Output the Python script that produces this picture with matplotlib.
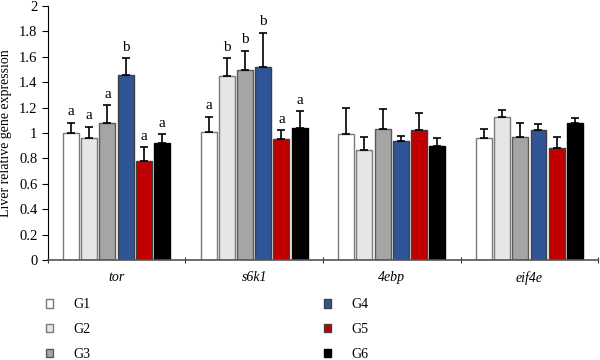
import matplotlib
matplotlib.use("Agg")
import matplotlib.pyplot as plt
from matplotlib.patches import Patch
import numpy as np

plt.rcParams['font.family'] = ['Liberation Serif', 'DejaVu Serif']

genes = ['tor', 's6k1', '4ebp', 'eif4e']
groups = ['G1', 'G2', 'G3', 'G4', 'G5', 'G6']
means = {
    'G1': [1.00, 1.01, 0.99, 0.96],
    'G2': [0.96, 1.45, 0.87, 1.13],
    'G3': [1.08, 1.50, 1.03, 0.97],
    'G4': [1.46, 1.52, 0.94, 1.02],
    'G5': [0.78, 0.95, 1.02, 0.88],
    'G6': [0.92, 1.04, 0.90, 1.08],
}
errs = {
    'G1': [0.08, 0.12, 0.21, 0.07],
    'G2': [0.09, 0.14, 0.10, 0.05],
    'G3': [0.14, 0.15, 0.16, 0.11],
    'G4': [0.13, 0.27, 0.04, 0.05],
    'G5': [0.11, 0.07, 0.14, 0.09],
    'G6': [0.07, 0.13, 0.06, 0.04],
}
letters = {
    'G1': ['a', 'a', '', ''],
    'G2': ['a', 'b', '', ''],
    'G3': ['a', 'b', '', ''],
    'G4': ['b', 'b', '', ''],
    'G5': ['a', 'a', '', ''],
    'G6': ['a', 'a', '', ''],
}
colors = ['#ffffff', '#e6e6e6', '#a5a5a5', '#2f5597', '#c00000', '#000000']
edges = ['#7a7a7a', '#7a7a7a', '#5a5a5a', '#404040', '#404040', '#000000']
yticks = [0, 0.2, 0.4, 0.6, 0.8, 1, 1.2, 1.4, 1.6, 1.8, 2]
ytick_labels = ['0', '0.2', '0.4', '0.6', '0.8', '1', '1.2', '1.4', '1.6', '1.8', '2']

fig = plt.figure(figsize=(6, 3.6), dpi=100)
ax = fig.add_axes([0.0795, 0.278, 0.9175, 0.705])

w = 0.116
step = 0.1324
centers = np.arange(len(genes)) + 0.5
for i, g in enumerate(groups):
    x = centers + (i - 2.5) * step
    ax.bar(x, means[g], width=w, color=colors[i], edgecolor=edges[i],
           linewidth=1.0, zorder=2)
    ax.errorbar(x, means[g], yerr=[np.zeros(len(genes)), errs[g]], fmt='none',
                ecolor='black', elinewidth=1.2, capsize=3, capthick=1.2, zorder=3)
    for xi, m, e, lab in zip(x, means[g], errs[g], letters[g]):
        if lab:
            ax.text(xi, m + e + 0.035, lab, ha='center', va='bottom', fontsize=11)

ax.set_xlim(0, 4)
ax.set_ylim(0, 2)
ax.set_yticks(yticks)
ax.set_yticklabels(ytick_labels, fontsize=10.5)
ax.set_xticks([0, 1, 2, 3, 4])
ax.set_xticklabels([])
ax.set_xticks(centers, minor=True)
ax.set_xticklabels(genes, minor=True, fontstyle='italic', fontsize=10)
ax.tick_params(axis='x', which='minor', length=0, pad=8)
ax.tick_params(axis='x', which='major', length=4, direction='inout', color='#333333')
ax.tick_params(axis='y', length=4, direction='out')
ax.spines['top'].set_visible(False)
ax.spines['right'].set_visible(False)
ax.spines['bottom'].set_color('#555555')
ax.spines['bottom'].set_linewidth(1.2)
ax.set_ylabel('Liver relative gene expression', fontsize=10, labelpad=5)

handles = [Patch(facecolor=colors[i], edgecolor=edges[i], label=groups[i]) for i in range(6)]
kw = dict(loc='upper left', frameon=False, fontsize=10, handlelength=0.55,
          handleheight=0.55, labelspacing=0.86, handletextpad=1.45, borderaxespad=0)
leg1 = fig.legend(handles=handles[:3], bbox_to_anchor=(0.067, 0.187), **kw)
leg2 = fig.legend(handles=handles[3:], bbox_to_anchor=(0.530, 0.187), **kw)

fig.savefig('out.png', dpi=100)
